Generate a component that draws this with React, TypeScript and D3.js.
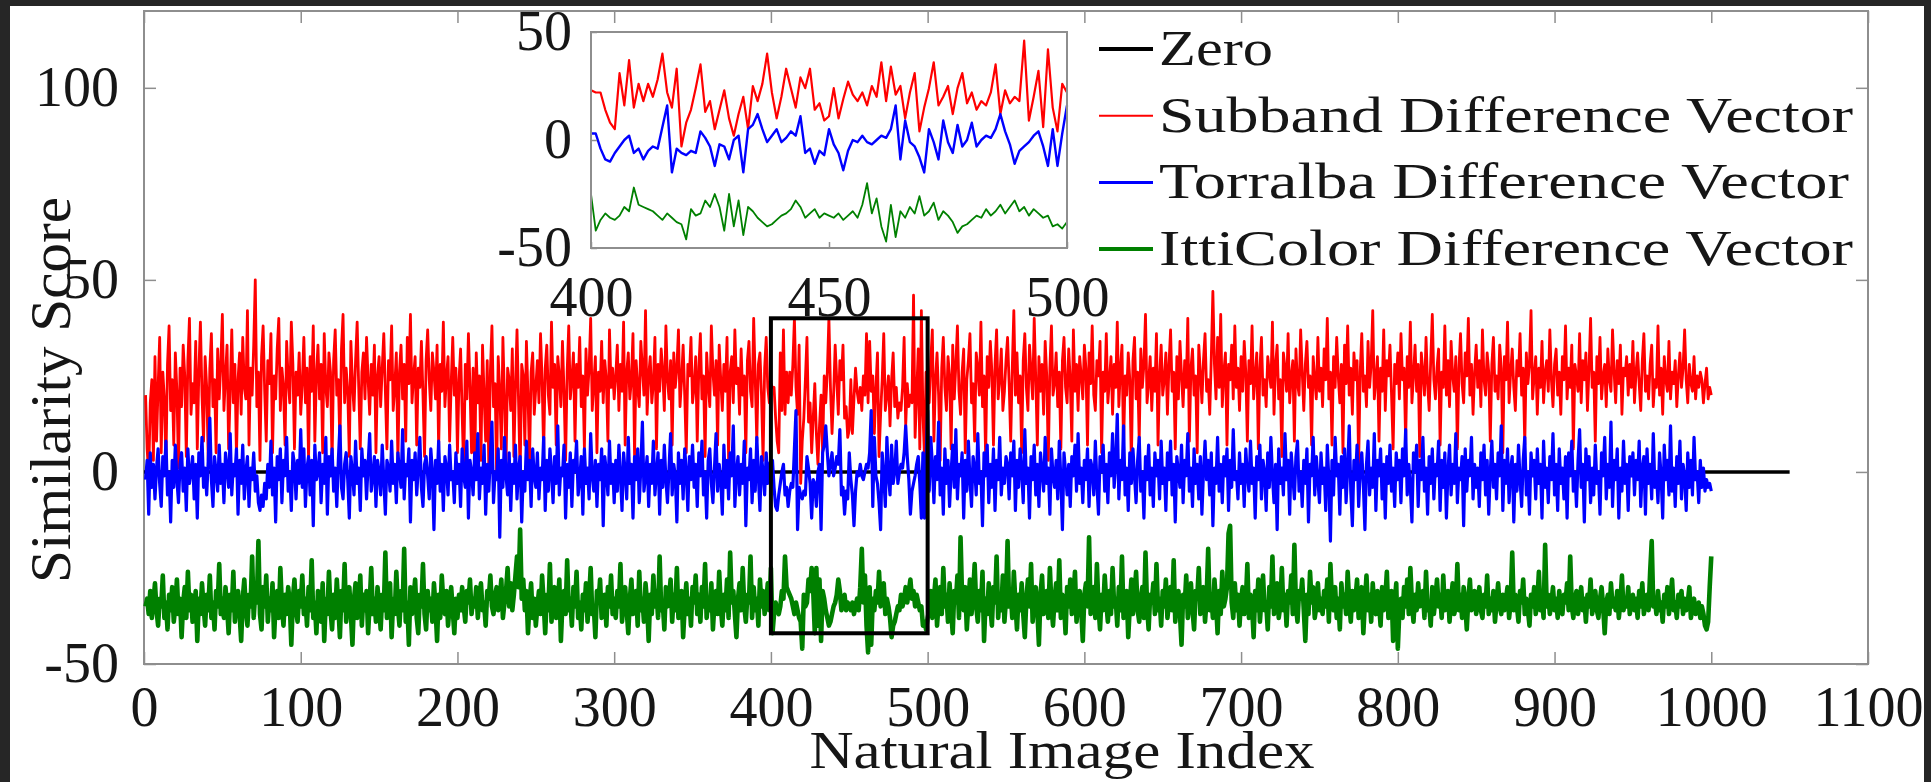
import React, { useEffect, useRef } from 'react';
import * as d3 from 'd3';

// Subband Difference Vector, images 1..1000
const subband: number[] = [
  20,6,-1,18,24,3,30,8,22,35,5,26,19,2,28,38,16,24,7,31,21,1,27,17,33,25,4,29,40,15,23,18,34,6,26,39,20,8,30,22,3,27,36,17,24,5,32,19,28,41,
  16,25,33,6,21,37,18,28,4,24,31,15,35,22,19,42,7,27,20,33,50,17,26,3,30,38,21,8,29,23,36,5,25,19,32,40,16,27,22,7,34,24,18,39,28,6,26,20,31,15,
  23,35,18,27,3,30,21,38,8,25,33,19,28,5,36,22,17,31,26,2,29,37,20,24,7,32,41,18,27,21,4,34,23,16,29,39,22,6,26,31,19,35,24,15,28,20,33,5,25,30,
  17,27,36,21,6,29,24,38,16,22,31,3,26,33,19,28,8,35,23,41,18,25,30,7,27,22,34,20,4,29,37,24,16,31,26,19,33,6,28,21,39,17,25,30,8,23,35,20,27,5,
  24,32,15,0,28,19,36,22,5,27,-1,31,18,25,3,33,20,8,29,1,26,38,17,23,-1,30,21,6,35,19,2,27,24,16,32,4,22,37,18,-1,28,25,7,34,20,3,26,31,15,22,
  29,18,36,24,5,27,33,20,15,39,22,28,7,30,25,17,34,21,3,26,38,19,24,31,8,28,22,35,17,25,6,32,20,27,40,16,23,30,5,26,21,34,18,29,24,8,37,22,27,19,
  25,33,16,28,21,39,7,26,31,19,24,36,4,29,22,17,34,27,20,42,15,25,30,18,23,35,6,28,21,32,26,16,38,24,19,29,7,31,22,27,37,17,24,33,20,5,28,25,35,18,
  22,30,8,27,36,19,25,4,31,23,17,38,26,20,29,7,33,24,16,28,21,35,3,26,30,18,37,23,27,15,32,20,25,5,29,34,21,17,40,24,8,28,31,20,3,27,35,22,18,23,
  22,22,14,8,5,31,16,37,15,26,18,26,20,28,40,22,15,33,-3,8,14,24,35,13,18,5,14,23,10,2,12,20,5,25,18,26,40,22,10,20,33,24,15,29,24,33,14,17,9,11,
  24,10,19,27,21,18,22,16,25,20,36,18,34,21,25,10,22,31,4,15,24,36,16,20,25,12,24,31,17,22,14,18,16,22,35,12,23,17,20,18,46,9,20,32,6,42,15,4,26,22,
  18,29,37,8,24,31,20,3,27,35,22,16,30,25,6,33,19,28,38,21,15,26,32,5,24,29,36,18,23,8,31,27,20,39,17,25,4,30,22,34,26,7,28,37,19,24,32,16,21,29,
  35,23,8,27,42,20,31,18,25,5,29,36,22,16,33,26,19,40,24,7,30,21,28,15,34,25,3,27,38,20,23,31,17,26,6,29,35,22,18,32,24,8,37,21,28,16,30,25,19,33,
  27,7,31,23,38,20,16,29,25,34,5,26,21,36,18,24,30,15,28,22,39,17,27,33,6,25,20,31,24,2,29,35,19,26,8,32,22,28,41,18,23,30,16,27,21,36,7,25,33,20,
  24,31,15,28,37,21,26,6,30,19,34,25,17,29,22,40,8,27,32,20,25,5,33,26,18,29,36,21,24,15,30,47,28,19,35,22,41,17,26,31,7,28,24,33,19,38,22,27,16,30,
  21,34,26,8,29,23,38,19,25,31,6,27,35,20,24,17,30,26,22,39,15,28,33,19,24,4,31,27,21,36,18,25,29,8,32,23,20,37,26,16,28,34,22,25,7,30,24,19,35,21,
  27,17,32,24,40,19,26,7,30,22,35,25,18,28,5,33,23,38,20,27,15,31,24,29,2,26,36,21,25,17,34,22,28,42,19,24,30,8,27,21,37,16,29,25,33,20,6,28,23,31,
  19,36,24,27,8,30,22,39,18,25,33,21,28,4,31,26,20,35,23,16,29,41,24,19,27,32,7,26,22,38,20,29,17,34,25,21,30,6,27,36,23,18,31,25,40,20,28,15,26,33,
  22,29,17,37,24,20,31,26,8,28,35,21,25,19,33,27,5,30,24,39,18,26,32,22,16,29,25,36,20,27,7,31,23,28,42,19,25,30,15,27,22,34,18,26,29,21,37,24,17,28,
  32,20,26,15,30,24,38,19,27,22,33,6,28,25,21,36,18,29,24,31,16,27,40,22,26,8,30,23,35,19,25,28,17,32,24,21,37,26,18,29,23,33,15,27,25,30,20,28,22,34,
  18,26,31,23,16,29,36,21,25,19,28,33,17,24,22,38,20,27,15,30,24,21,34,19,26,23,29,17,25,31,22,27,37,24,18,28,23,21,30,19,25,22,26,24,18,23,27,19,22,20,
];

// Torralba Difference Vector
const torralba: number[] = [
  -2,3,-11,5,-4,2,-7,1,6,-3,-9,4,-1,8,-6,0,-13,3,-4,7,-2,-8,2,5,-5,1,-10,6,-3,0,4,-7,2,-12,5,-1,9,-4,1,-6,3,14,-2,-9,4,0,-5,7,-3,2,
  -8,5,1,-4,10,-6,2,-1,6,-11,3,-3,7,-7,0,4,-9,1,-2,5,-5,-1,-8,-10,-6,-9,-3,-7,2,-4,8,-6,1,-13,4,-2,6,-8,3,-1,9,-5,0,-10,5,2,-7,3,-3,11,
  -4,6,-9,1,4,-6,3,-14,7,-2,0,5,-8,2,-3,9,-11,4,-1,6,-5,1,-9,3,12,-4,-7,2,5,-2,-12,4,0,-6,8,-3,1,-10,6,-1,3,-7,2,10,-5,-1,4,-9,3,0,
  -6,7,-2,-11,3,1,-5,8,-3,2,-8,5,0,-4,11,-7,2,-1,6,-13,3,-2,5,-6,1,9,-4,-9,2,4,-1,-7,6,0,-15,3,-3,8,-5,2,-10,4,1,-6,7,-2,0,-8,5,-3,
  2,-9,6,-1,-4,8,-12,3,0,-6,5,-2,10,-7,1,-3,7,-11,2,-5,4,13,-8,0,-2,6,-17,3,-4,9,-1,-6,5,-10,2,-3,7,-7,1,4,-13,0,-5,8,-2,3,-9,6,-1,-4,
  5,-7,1,-2,9,-10,3,-5,6,0,-8,4,-3,12,-6,1,-1,7,-12,2,-4,5,-9,3,0,8,-6,-2,4,-11,6,-3,1,-7,10,-1,-5,3,-9,2,-2,6,-14,4,0,-6,8,-3,2,-8,
  3,-5,7,-1,-10,5,0,-7,9,-3,2,-12,4,-2,6,-8,1,13,-5,-1,4,-9,2,-3,8,-6,0,5,-11,3,-4,7,-2,-8,1,10,-6,2,-1,-13,5,-3,3,-7,6,0,-10,4,-2,7,
  -4,2,-9,5,-1,8,-6,0,-12,3,6,-3,-8,1,10,-5,2,-2,-11,7,-4,3,-7,5,-1,12,-9,0,4,-6,2,-3,8,-14,1,-2,6,-8,3,-5,9,-1,-10,4,0,-6,5,-3,2,3,
  3,-4,-9,-10,-6,-3,0,2,-6,-4,-9,-5,-3,-4,6,16,-15,-4,-6,-7,-5,-6,4,1,-3,-12,-2,-3,-9,0,2,-15,5,7,12,5,-1,2,5,-1,1,4,2,11,-6,-4,-11,-5,-7,5,
  -2,-6,-14,-5,0,-1,2,-1,-2,0,2,1,5,16,-9,9,-1,-3,-8,-15,5,-1,-9,9,-1,-6,7,-3,0,8,-3,0,2,1,5,12,4,-2,-11,-5,-3,-1,2,4,-3,-12,5,-12,3,16,
  -5,9,2,-8,4,-2,13,-6,1,-11,6,-3,3,-9,0,7,-4,11,-7,2,-1,5,-12,3,-5,8,-2,-9,4,1,-6,10,-3,0,-14,5,-1,7,-8,2,-4,6,-10,3,-2,9,-6,1,-3,4,
  2,-7,5,-1,8,-10,3,-4,6,0,-8,11,-3,1,-12,4,-2,7,-6,2,-9,5,0,-5,9,-3,1,-11,6,-1,-4,3,-7,8,-2,-15,5,0,-6,2,-9,4,-1,7,-5,10,-3,1,-8,3,
  -2,6,-9,3,1,-6,8,-3,-11,4,0,7,-5,2,-8,5,-1,10,-4,2,15,-7,3,-2,12,-6,1,-10,5,-3,6,-1,-8,3,9,-5,0,-12,4,-2,7,-6,1,-9,5,-1,3,-7,8,-3,
  1,-10,5,-2,8,-6,2,-13,4,0,-4,7,-8,3,-1,10,-5,1,-9,6,-3,2,-7,4,-11,0,8,-2,3,-6,5,-14,1,-3,9,-5,2,-8,4,-1,6,-10,3,-4,11,-2,0,-7,5,-3,
  2,-9,6,-1,-5,8,-3,1,-12,4,-2,7,-7,3,0,-10,5,-4,9,-1,-8,2,-15,6,-3,1,-6,10,-2,3,-11,5,-1,-7,4,8,-5,0,-9,3,-3,6,-13,2,-1,9,-6,4,-2,-8,
  5,-3,1,-10,7,-2,-18,3,-6,9,-1,2,-11,4,-4,6,-8,1,12,-5,-14,3,-2,7,-9,0,5,-3,-15,2,8,-6,1,-4,10,-10,3,-1,6,-7,2,-12,4,-3,7,-5,1,-9,5,-2,
  3,-8,6,-1,11,-6,2,-4,-13,5,0,7,-9,3,-2,9,-5,1,-11,4,-3,6,-7,2,-1,8,-10,3,-4,5,-12,0,7,-6,2,-3,10,-8,1,-2,4,-14,6,-5,3,-1,9,-7,2,-4,
  1,-9,5,-2,7,-6,3,-11,0,8,-4,2,-7,5,-1,12,-10,3,-3,6,-8,1,4,-13,2,-5,7,-2,-9,3,9,-6,0,-11,5,-1,3,-7,6,-3,2,-12,8,-4,1,-8,4,-2,10,-6,
  2,-10,6,-3,1,-7,4,-12,5,-1,8,-5,0,-9,3,11,-4,2,-13,6,-2,4,-8,1,-6,7,-3,0,-11,5,-1,9,-7,2,-4,13,-9,3,-2,6,-12,1,-5,8,-3,2,-10,4,-1,5,
  -6,3,-2,8,-9,1,4,-11,6,-3,2,-7,10,-4,0,-8,5,-1,-12,7,-2,3,-6,12,-5,1,-9,4,-3,8,-7,2,-1,-10,5,-4,3,-6,9,-2,0,-8,3,-4,1,-5,-2,-4,-3,-5,
];

// IttiColor Difference Vector
const ittiColor: number[] = [
  -35,-33,-37,-31,-38,-34,-29,-36,-40,-33,-35,-27,-38,-34,-41,-32,-36,-30,-39,-35,-28,-37,-33,-43,-34,-30,-38,-26,-36,-32,-39,-35,-31,-44,-33,-37,-29,-35,-40,-32,-36,-27,-38,-34,-41,-31,-35,-24,-37,-33,
  -38,-30,-35,-42,-32,-36,-26,-39,-34,-31,-37,-44,-33,-28,-36,-40,-32,-35,-22,-38,-31,-34,-18,-37,-41,-30,-35,-27,-39,-33,-36,-29,-43,-34,-31,-38,-25,-35,-40,-32,-37,-30,-34,-45,-33,-28,-36,-39,-31,-35,
  -27,-37,-33,-40,-30,-36,-23,-38,-34,-42,-31,-35,-39,-29,-44,-33,-37,-26,-36,-41,-32,-38,-28,-35,-43,-31,-36,-24,-39,-34,-30,-37,-45,-33,-29,-38,-35,-27,-40,-32,-36,-31,-42,-34,-25,-37,-33,-39,-30,-35,
  -41,-32,-36,-21,-38,-34,-29,-43,-33,-37,-26,-35,-40,-31,-36,-20,-39,-34,-45,-30,-37,-33,-28,-38,-42,-32,-35,-24,-37,-41,-31,-36,-33,-39,-29,-35,-44,-32,-38,-27,-34,-37,-31,-40,-35,-30,-36,-42,-33,-38,
  -32,-36,-30,-35,-39,-31,-34,-28,-37,-33,-35,-30,-38,-32,-29,-36,-34,-40,-31,-33,-27,-35,-37,-32,-30,-36,-33,-28,-38,-34,-31,-25,-35,-29,-36,-32,-27,-22,-30,-15,-33,-28,-36,-31,-42,-34,-29,-38,-33,-40,
  -35,-31,-37,-27,-34,-42,-32,-36,-24,-39,-33,-30,-38,-35,-28,-44,-34,-31,-37,-23,-36,-33,-40,-30,-35,-26,-38,-34,-41,-32,-36,-29,-39,-33,-25,-37,-35,-43,-31,-34,-28,-38,-36,-32,-40,-30,-35,-27,-37,-33,
  -38,-31,-35,-24,-39,-34,-30,-36,-42,-33,-28,-37,-35,-31,-40,-26,-36,-33,-39,-29,-34,-44,-32,-37,-27,-35,-31,-38,-22,-36,-34,-41,-30,-35,-33,-28,-39,-32,-36,-25,-38,-34,-31,-43,-35,-29,-37,-33,-40,-30,
  -34,-27,-37,-32,-39,-30,-35,-24,-38,-33,-36,-29,-41,-34,-31,-37,-26,-35,-40,-32,-36,-28,-38,-21,-34,-31,-37,-43,-33,-29,-36,-25,-35,-39,-32,-34,-22,-38,-30,-36,-33,-40,-28,-35,-31,-37,-34,-29,-36,-25,
  -42,-37,-34,-36,-37,-35,-31,-33,-22,-30,-31,-32,-33,-35,-37,-34,-36,-38,-39,-46,-32,-35,-34,-28,-31,-25,-31,-42,-25,-40,-28,-44,-31,-33,-36,-38,-40,-39,-37,-35,-34,-32,-28,-31,-36,-34,-32,-36,-34,-35,
  -36,-34,-37,-35,-33,-36,-30,-20,-34,-27,-40,-47,-30,-45,-33,-36,-31,-34,-26,-35,-33,-29,-37,-33,-35,-38,-43,-40,-39,-37,-35,-36,-32,-35,-33,-30,-34,-31,-28,-33,-31,-35,-32,-34,-36,-35,-40,-39,-41,-38,
  -36,-31,-38,-33,-28,-40,-34,-30,-37,-25,-35,-32,-39,-29,-36,-42,-31,-34,-27,-38,-17,-33,-36,-30,-41,-34,-28,-37,-32,-24,-35,-39,-31,-36,-26,-44,-33,-37,-29,-35,-40,-30,-34,-22,-38,-32,-36,-27,-39,-33,
  -18,-35,-31,-38,-26,-34,-41,-32,-36,-29,-37,-43,-33,-28,-35,-24,-39,-34,-30,-36,-45,-32,-27,-37,-34,-31,-38,-25,-35,-40,-33,-29,-36,-23,-38,-32,-34,-42,-30,-35,-28,-37,-33,-26,-39,-34,-31,-36,-44,-32,
  -29,-35,-17,-37,-33,-30,-38,-24,-35,-41,-32,-36,-27,-34,-39,-31,-37,-25,-35,-33,-40,-30,-36,-22,-38,-34,-31,-43,-35,-28,-37,-32,-26,-36,-39,-33,-30,-38,-21,-35,-41,-32,-34,-29,-37,-24,-36,-33,-40,-31,
  -35,-28,-38,-34,-30,-36,-23,-39,-33,-31,-37,-45,-32,-35,-27,-38,-34,-29,-36,-41,-31,-33,-25,-37,-35,-30,-39,-33,-20,-36,-32,-38,-28,-34,-42,-31,-37,-26,-35,-33,-30,-16,-14,-34,-38,-29,-36,-32,-40,-33,
  -30,-37,-34,-24,-38,-32,-35,-43,-31,-36,-28,-39,-33,-27,-36,-34,-41,-30,-35,-22,-37,-33,-29,-38,-35,-25,-36,-32,-40,-31,-34,-27,-37,-19,-35,-39,-31,-33,-28,-36,-44,-32,-37,-26,-34,-30,-38,-35,-29,-36,
  -33,-37,-31,-35,-28,-39,-24,-34,-36,-30,-38,-33,-41,-29,-35,-32,-37,-26,-34,-39,-31,-36,-33,-28,-38,-35,-30,-42,-34,-27,-36,-32,-39,-29,-35,-37,-31,-34,-40,-30,-36,-33,-26,-38,-35,-31,-44,-34,-29,-46,
  -36,-33,-38,-30,-35,-28,-37,-25,-34,-39,-32,-36,-29,-35,-33,-31,-38,-26,-36,-34,-40,-30,-37,-33,-28,-35,-32,-38,-27,-36,-34,-31,-39,-33,-29,-37,-35,-24,-36,-32,-38,-30,-34,-41,-33,-28,-36,-35,-31,-37,
  -34,-30,-36,-38,-32,-35,-27,-37,-33,-36,-31,-39,-34,-29,-35,-37,-32,-36,-33,-30,-38,-34,-21,-36,-32,-35,-39,-31,-34,-28,-37,-33,-36,-40,-32,-35,-30,-37,-34,-26,-36,-33,-38,-19,-35,-32,-37,-34,-30,-36,
  -33,-38,-31,-35,-37,-32,-34,-29,-36,-22,-35,-38,-33,-31,-37,-34,-30,-36,-33,-39,-32,-35,-28,-37,-34,-31,-36,-38,-33,-30,-35,-42,-34,-32,-37,-29,-35,-33,-36,-31,-38,-34,-27,-36,-33,-35,-30,-37,-34,-32,
  -36,-33,-38,-31,-35,-29,-37,-34,-32,-36,-26,-18,-35,-33,-37,-31,-36,-34,-39,-32,-35,-30,-37,-33,-28,-36,-34,-38,-32,-35,-31,-37,-33,-36,-34,-30,-38,-35,-33,-37,-36,-34,-38,-35,-37,-40,-41,-39,-30,-22,
];

const xTickValues = [0, 100, 200, 300, 400, 500, 600, 700, 800, 900, 1000, 1100];
const yTickValues = [-50, 0, 50, 100];
const insetXTicks = [400, 450, 500];
const insetYTicks = [-50, 0, 50];
const zeroSpan = [0, 1050];
const zoomX = [400, 500];
const zoomY = [-42, 40];
const legendLabels = ['Zero', 'Subband Difference Vector', 'Torralba Difference Vector', 'IttiColor Difference Vector'];

const W = 1931, H = 782;
const FONT = '"Liberation Serif", "Times New Roman", serif';
const GRID = '#8e8e8e';
const INK = '#161616';
const plain = (d: any) => String(d); // plain hyphen minus, no thousands comma

const App = () => {
  const ref = useRef<SVGSVGElement>(null);

  useEffect(() => {
    const svg = d3.select(ref.current);
    svg.selectAll('*').remove();

    // dark surround + white figure panel
    svg.append('rect').attr('width', W).attr('height', H).attr('fill', '#262626');
    svg.append('defs').append('clipPath').attr('id', 'panel')
      .append('rect').attr('x', 10).attr('y', 6).attr('width', 1914).attr('height', 776);
    const root = svg.append('g').attr('clip-path', 'url(#panel)');
    root.append('rect').attr('x', 10).attr('y', 6).attr('width', 1914).attr('height', 776).attr('fill', '#fff');

    const x = d3.scaleLinear().domain([0, 1100]).range([144, 1868]);
    const y = d3.scaleLinear().domain([-50, 120]).range([664, 11]);

    const series = [
      { name: legendLabels[1], data: subband, color: '#ff0000', w: 2.8, iw: 2.2 },
      { name: legendLabels[2], data: torralba, color: '#0000ff', w: 3.2, iw: 2.4 },
      { name: legendLabels[3], data: ittiColor, color: '#008000', w: 4.6, iw: 1.8 },
    ];

    const fixAxis = (g: any, fs: number) => {
      g.attr('font-family', FONT).attr('font-size', fs);
      g.select('.domain').remove();
      g.selectAll('.tick line').attr('stroke', GRID).attr('stroke-width', 1.5);
      g.selectAll('.tick text').attr('fill', INK);
    };

    // main axes
    root.append('g').attr('transform', 'translate(0,664)')
      .call(d3.axisBottom(x).tickValues(xTickValues).tickFormat(plain).tickSizeInner(-12).tickSizeOuter(0).tickPadding(22))
      .call((g: any) => fixAxis(g, 56));
    root.append('g').attr('transform', 'translate(0,11)')
      .call(d3.axisTop(x).tickValues(xTickValues).tickSizeInner(-12).tickSizeOuter(0).tickFormat(() => ''))
      .call((g: any) => fixAxis(g, 56));
    root.append('g').attr('transform', 'translate(144,0)')
      .call(d3.axisLeft(y).tickValues(yTickValues).tickFormat(plain).tickSizeInner(-12).tickSizeOuter(0).tickPadding(25))
      .call((g: any) => fixAxis(g, 56));
    root.append('g').attr('transform', 'translate(1868,0)')
      .call(d3.axisRight(y).tickValues(yTickValues).tickSizeInner(-12).tickSizeOuter(0).tickFormat(() => ''))
      .call((g: any) => fixAxis(g, 56));
    root.append('rect')
      .attr('x', x(0)).attr('y', y(120)).attr('width', x(1100) - x(0)).attr('height', y(-50) - y(120))
      .attr('fill', 'none').attr('stroke', GRID).attr('stroke-width', 2);

    // zero line
    root.append('path')
      .datum(zeroSpan)
      .attr('d', d3.line<number>().x(d => x(d)).y(() => y(0)))
      .attr('stroke', '#000').attr('stroke-width', 3.5).attr('fill', 'none');

    const line = d3.line<number>().x((d, i) => x(i + 1)).y(d => y(d));
    series.forEach(s => {
      root.append('path').datum(s.data).attr('d', line)
        .attr('fill', 'none').attr('stroke', s.color).attr('stroke-width', s.w)
        .attr('stroke-linejoin', 'round');
    });

    // zoom box
    root.append('rect')
      .attr('x', x(zoomX[0])).attr('y', y(zoomY[1]))
      .attr('width', x(zoomX[1]) - x(zoomX[0])).attr('height', y(zoomY[0]) - y(zoomY[1]))
      .attr('fill', 'none').attr('stroke', '#000').attr('stroke-width', 4);

    // inset
    const ix = d3.scaleLinear().domain([400, 500]).range([591, 1067]);
    const iy = d3.scaleLinear().domain([-50, 50]).range([248, 32]);
    const inset = root.append('g');
    inset.append('rect').attr('x', 591).attr('y', 32).attr('width', 476).attr('height', 216).attr('fill', '#fff');
    const iline = d3.line<[number, number]>().x(d => ix(d[0])).y(d => iy(d[1]));
    series.forEach(s => {
      const pts = s.data.map((v, i) => [i + 1, v] as [number, number]).filter(p => p[0] >= 400 && p[0] <= 500);
      inset.append('path').datum(pts).attr('d', iline)
        .attr('fill', 'none').attr('stroke', s.color).attr('stroke-width', s.iw).attr('stroke-linejoin', 'round');
    });
    inset.append('g').attr('transform', 'translate(0,248)')
      .call(d3.axisBottom(ix).tickValues(insetXTicks).tickFormat(plain).tickSizeInner(-6).tickSizeOuter(0).tickPadding(28))
      .call((g: any) => fixAxis(g, 56));
    inset.append('g').attr('transform', 'translate(591,0)')
      .call(d3.axisLeft(iy).tickValues(insetYTicks).tickFormat(plain).tickSizeInner(-6).tickSizeOuter(0).tickPadding(19))
      .call((g: any) => fixAxis(g, 56));
    inset.append('rect').attr('x', 591).attr('y', 32).attr('width', 476).attr('height', 216)
      .attr('fill', 'none').attr('stroke', GRID).attr('stroke-width', 2);

    // legend
    const legendColors = ['#000', '#ff0000', '#0000ff', '#008000'];
    const legendWidths = [4, 2, 3, 4];
    const legendLen = [114, 694, 690, 694];
    const lg = root.append('g').attr('font-family', FONT).attr('font-size', 50).attr('fill', INK);
    legendLabels.forEach((lab, i) => {
      const base = 65 + i * 66.7;
      lg.append('line').attr('x1', 1099).attr('x2', 1153).attr('y1', base - 16).attr('y2', base - 16)
        .attr('stroke', legendColors[i]).attr('stroke-width', legendWidths[i]);
      lg.append('text').attr('x', 1159).attr('y', base).text(lab)
        .attr('textLength', legendLen[i]).attr('lengthAdjust', 'spacingAndGlyphs');
    });

    // axis labels
    root.append('text').attr('x', 1062).attr('y', 768).attr('text-anchor', 'middle')
      .attr('font-family', FONT).attr('font-size', 52).attr('fill', INK)
      .attr('textLength', 505).attr('lengthAdjust', 'spacingAndGlyphs')
      .text('Natural Image Index');
    root.append('text').attr('transform', 'translate(70,390) rotate(-90)').attr('text-anchor', 'middle')
      .attr('font-family', FONT).attr('font-size', 58).attr('fill', INK)
      .attr('textLength', 386).attr('lengthAdjust', 'spacingAndGlyphs')
      .text('Similarity Score');

    return () => { svg.selectAll('*').remove(); };
  }, []);

  return (
    <svg ref={ref} width={W} height={H} style={{ position: 'absolute', left: 0, top: 0, display: 'block' }} />
  );
};

export default App;
